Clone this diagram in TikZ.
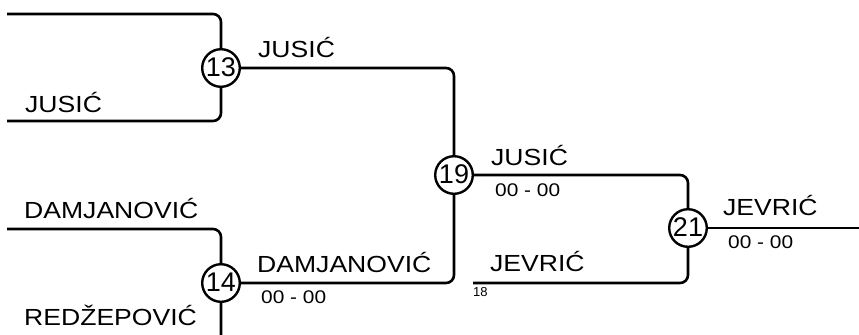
\documentclass[tikz,border=0pt]{standalone}
\usepackage{fontspec}
\setmainfont{Liberation Sans}
\newfontfamily\lblfont{Liberation Sans}[FakeStretch=1.14]
\begin{document}
\begin{tikzpicture}[x=1bp,y=-1bp,
  wire/.style={line width=2.6bp, rounded corners=8bp, line cap=butt},
  match/.style={circle, draw, line width=2.4bp, fill=white, minimum size=37.6bp, inner sep=0pt,
    font=\fontsize{27bp}{30bp}\selectfont},
  player/.style={anchor=base west, inner sep=0pt, font=\lblfont\fontsize{23.3bp}{28bp}\selectfont},
  score/.style={anchor=base west, inner sep=0pt, font=\lblfont\fontsize{18.3bp}{22bp}\selectfont},
  seed/.style={anchor=base west, inner sep=0pt, font=\fontsize{13bp}{15bp}\selectfont}]
\useasboundingbox (0,0) rectangle (859,334);
\clip (0,0) rectangle (859,334);
% match circles
\node[match] (m13) at (221,68) {\raisebox{1.5bp}{13}};
\node[match] (m14) at (221,283) {\raisebox{1.5bp}{14}};
\node[match] (m19) at (454,175) {\raisebox{1.5bp}{19}};
\node[match] (m21) at (688,228) {\raisebox{1.5bp}{21}};
% free ends
\coordinate (a1) at (7,14);
\coordinate (a2) at (7,121);
\coordinate (b1) at (7,229);
\coordinate (b2) at (7,343);
\coordinate (j18) at (473,283);
\coordinate (fin) at (860,228);
% connectors
\draw[wire] (a1) -| (m13.north);
\draw[wire] (a2) -| (m13.south);
\draw[wire] (b1) -| (m14.north);
\draw[wire] (b2) -| (m14.south);
\draw[wire] (m13.east) -| (m19.north);
\draw[wire] (m14.east) -| (m19.south);
\draw[wire] (m19.east) -| (m21.north);
\draw[wire] (j18) -| (m21.south);
\draw[wire] (m21.east) -- (fin);
% labels
\node[player] (t1) at (258,57) {JUSIĆ};
\node[player] (t2) at (25,112) {JUSIĆ};
\node[player] (t3) at (24,218) {DAMJANOVIĆ};
\node[player] (t4) at (24,325) {REDŽEPOVIĆ};
\node[player] (t5) at (257,272) {DAMJANOVIĆ};
\node[score] (s5) at (261,303) {00 - 00};
\node[player] (t6) at (491,165) {JUSIĆ};
\node[score] (s6) at (495,196) {00 - 00};
\node[player] (t7) at (490,271) {JEVRIĆ};
\node[seed] (n18) at (473,296) {18};
\node[player] (t8) at (723,215) {JEVRIĆ};
\node[score] (s8) at (728,248) {00 - 00};
\end{tikzpicture}
\end{document}
